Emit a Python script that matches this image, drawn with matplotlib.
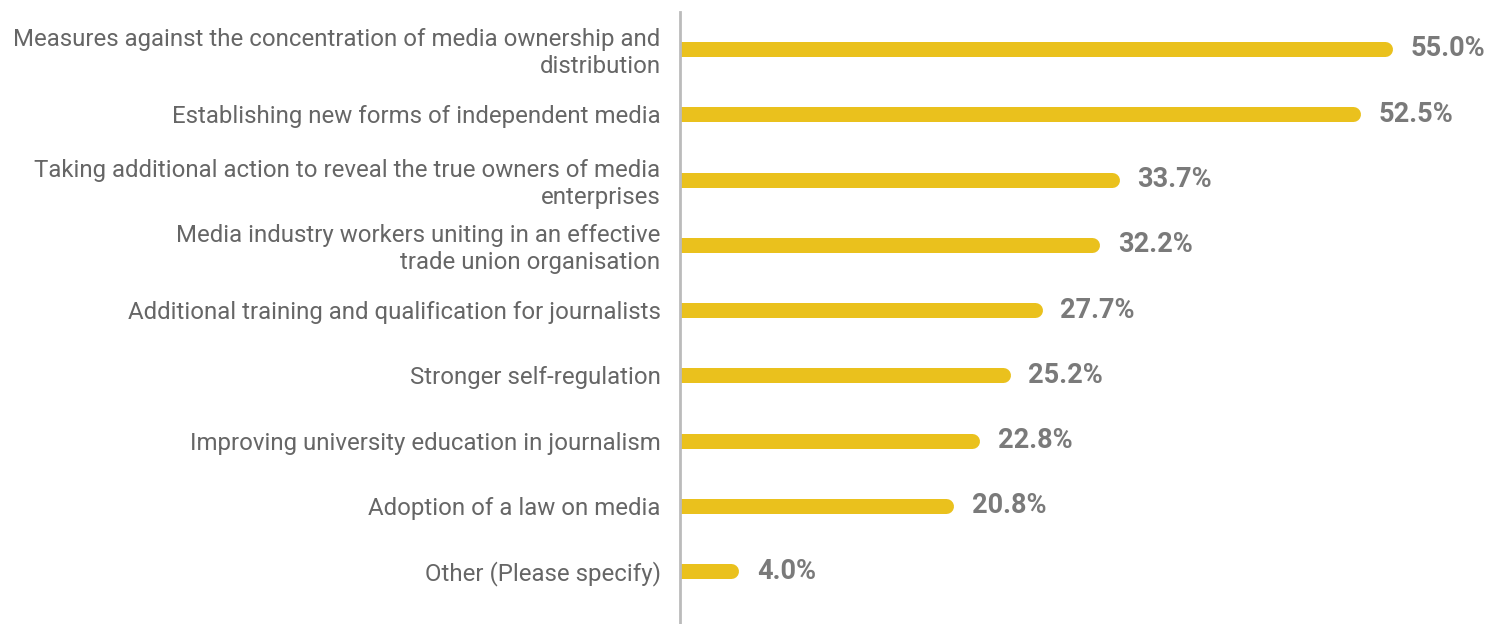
import matplotlib.pyplot as plt

labels = [
    "Measures against the concentration of media ownership and\ndistribution",
    "Establishing new forms of independent media",
    "Taking additional action to reveal the true owners of media\nenterprises",
    "Media industry workers uniting in an effective\ntrade union organisation",
    "Additional training and qualification for journalists",
    "Stronger self-regulation",
    "Improving university education in journalism",
    "Adoption of a law on media",
    "Other (Please specify)",
]
values = [55.0, 52.5, 33.7, 32.2, 27.7, 25.2, 22.8, 20.8, 4.0]

plt.rcParams['font.family'] = ['Roboto', 'DejaVu Sans']

bar_color = '#EAC11D'
text_color = '#666666'
value_color = '#7a7a7a'

fig = plt.figure(figsize=(14.87, 6.24), dpi=100)
ax = fig.add_axes([680 / 1487, 0, 1 - 680 / 1487, 612 / 624])

for i, v in enumerate(values):
    # round cap on the right end; left cap is clipped by the axes
    ax.plot([0, v], [i, i], color=bar_color, linewidth=10.8,
            solid_capstyle='round', clip_on=True)
    ax.text(v + 2.0, i, f"{v:.1f}%", va='center', ha='left',
            fontsize=19.5, fontweight='bold', color=value_color)

ax.set_xlim(0, 63.0)
ax.set_ylim(8 + 0.812, -0.567)
ax.set_yticks(range(len(labels)))
ax.set_yticklabels(labels, fontsize=17.3, color=text_color, linespacing=1.2)
ax.tick_params(axis='y', length=0, pad=14)
ax.set_xticks([])
for s in ['top', 'right', 'bottom']:
    ax.spines[s].set_visible(False)
ax.spines['left'].set_color('#bbbbbb')
ax.spines['left'].set_linewidth(2)

fig.savefig('out.png', dpi=100)
